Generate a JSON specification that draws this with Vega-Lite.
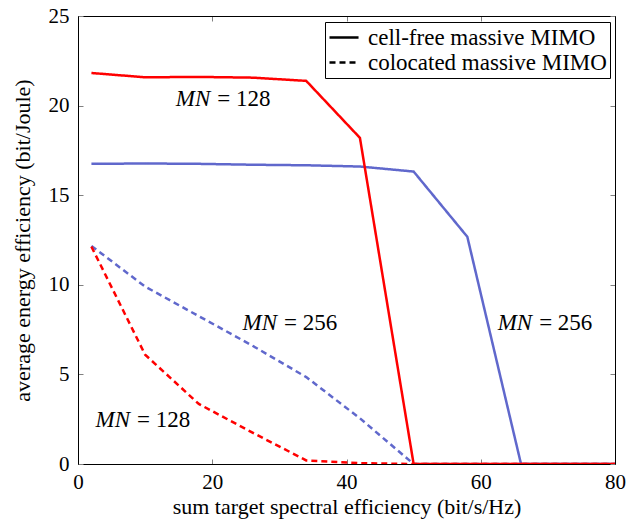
{
  "$schema": "https://vega.github.io/schema/vega-lite/v6.json",
  "width": 537,
  "height": 448,
  "autosize": "none",
  "padding": {"left": 78, "top": 16, "right": 21, "bottom": 58},
  "background": "white",
  "config": {
    "view": {"stroke": "black", "strokeWidth": 1},
    "font": "Liberation Serif, Times New Roman, serif",
    "axis": {
      "grid": false,
      "labelFont": "Liberation Serif, Times New Roman, serif",
      "labelFontSize": 21,
      "labelColor": "black",
      "labelFlush": false,
      "titleFont": "Liberation Serif, Times New Roman, serif",
      "titleFontSize": 22,
      "titleFontWeight": "normal",
      "titleColor": "black",
      "domainColor": "black",
      "domainWidth": 1,
      "tickColor": "#808080",
      "tickSize": -5,
      "tickWidth": 1
    }
  },
  "datasets": {
    "curves": [
      {"se": 2, "ee": 16.75, "MN": "256", "scheme": "cell-free massive MIMO"},
      {"se": 10, "ee": 16.77, "MN": "256", "scheme": "cell-free massive MIMO"},
      {"se": 18, "ee": 16.75, "MN": "256", "scheme": "cell-free massive MIMO"},
      {"se": 26, "ee": 16.7, "MN": "256", "scheme": "cell-free massive MIMO"},
      {"se": 34, "ee": 16.67, "MN": "256", "scheme": "cell-free massive MIMO"},
      {"se": 42, "ee": 16.6, "MN": "256", "scheme": "cell-free massive MIMO"},
      {"se": 50, "ee": 16.32, "MN": "256", "scheme": "cell-free massive MIMO"},
      {"se": 58, "ee": 12.68, "MN": "256", "scheme": "cell-free massive MIMO"},
      {"se": 66, "ee": 0, "MN": "256", "scheme": "cell-free massive MIMO"},
      {"se": 74, "ee": 0, "MN": "256", "scheme": "cell-free massive MIMO"},
      {"se": 80, "ee": 0, "MN": "256", "scheme": "cell-free massive MIMO"},
      {"se": 2, "ee": 12.17, "MN": "256", "scheme": "colocated massive MIMO"},
      {"se": 10, "ee": 9.9, "MN": "256", "scheme": "colocated massive MIMO"},
      {"se": 18, "ee": 8.25, "MN": "256", "scheme": "colocated massive MIMO"},
      {"se": 26, "ee": 6.6, "MN": "256", "scheme": "colocated massive MIMO"},
      {"se": 34, "ee": 4.85, "MN": "256", "scheme": "colocated massive MIMO"},
      {"se": 42, "ee": 2.55, "MN": "256", "scheme": "colocated massive MIMO"},
      {"se": 50, "ee": 0, "MN": "256", "scheme": "colocated massive MIMO"},
      {"se": 58, "ee": 0, "MN": "256", "scheme": "colocated massive MIMO"},
      {"se": 66, "ee": 0, "MN": "256", "scheme": "colocated massive MIMO"},
      {"se": 74, "ee": 0, "MN": "256", "scheme": "colocated massive MIMO"},
      {"se": 80, "ee": 0, "MN": "256", "scheme": "colocated massive MIMO"},
      {"se": 2, "ee": 21.82, "MN": "128", "scheme": "cell-free massive MIMO"},
      {"se": 10, "ee": 21.58, "MN": "128", "scheme": "cell-free massive MIMO"},
      {"se": 18, "ee": 21.6, "MN": "128", "scheme": "cell-free massive MIMO"},
      {"se": 26, "ee": 21.56, "MN": "128", "scheme": "cell-free massive MIMO"},
      {"se": 34, "ee": 21.38, "MN": "128", "scheme": "cell-free massive MIMO"},
      {"se": 42, "ee": 18.2, "MN": "128", "scheme": "cell-free massive MIMO"},
      {"se": 50, "ee": 0, "MN": "128", "scheme": "cell-free massive MIMO"},
      {"se": 58, "ee": 0, "MN": "128", "scheme": "cell-free massive MIMO"},
      {"se": 66, "ee": 0, "MN": "128", "scheme": "cell-free massive MIMO"},
      {"se": 74, "ee": 0, "MN": "128", "scheme": "cell-free massive MIMO"},
      {"se": 80, "ee": 0, "MN": "128", "scheme": "cell-free massive MIMO"},
      {"se": 2, "ee": 12.13, "MN": "128", "scheme": "colocated massive MIMO"},
      {"se": 10, "ee": 6.1, "MN": "128", "scheme": "colocated massive MIMO"},
      {"se": 18, "ee": 3.35, "MN": "128", "scheme": "colocated massive MIMO"},
      {"se": 26, "ee": 1.75, "MN": "128", "scheme": "colocated massive MIMO"},
      {"se": 34, "ee": 0.2, "MN": "128", "scheme": "colocated massive MIMO"},
      {"se": 42, "ee": 0.05, "MN": "128", "scheme": "colocated massive MIMO"},
      {"se": 50, "ee": 0, "MN": "128", "scheme": "colocated massive MIMO"},
      {"se": 58, "ee": 0, "MN": "128", "scheme": "colocated massive MIMO"},
      {"se": 66, "ee": 0, "MN": "128", "scheme": "colocated massive MIMO"},
      {"se": 74, "ee": 0, "MN": "128", "scheme": "colocated massive MIMO"},
      {"se": 80, "ee": 0, "MN": "128", "scheme": "colocated massive MIMO"}
    ],
    "notes": [
      {"se": 20.3, "ee": 20.37, "sym": "MN", "val": "= 128"},
      {"se": 30.25, "ee": 7.89, "sym": "MN", "val": "= 256"},
      {"se": 68.25, "ee": 7.89, "sym": "MN", "val": "= 256"},
      {"se": 8.35, "ee": 2.46, "sym": "MN", "val": "= 128"}
    ]
  },
  "resolve": {
    "scale": {"x": "independent", "y": "independent"},
    "axis": {"x": "independent", "y": "independent"}
  },
  "layer": [
    {
      "data": {"name": "curves"},
      "mark": {"type": "line", "strokeWidth": 2.5, "clip": true},
      "encoding": {
        "x": {
          "field": "se", "type": "quantitative",
          "scale": {"domain": [0, 80], "nice": false, "zero": false},
          "axis": {"orient": "bottom", "values": [0, 20, 40, 60, 80], "title": "sum target spectral efficiency (bit/s/Hz)", "labelPadding": 12, "titlePadding": 4}
        },
        "y": {
          "field": "ee", "type": "quantitative",
          "scale": {"domain": [0, 25], "nice": false},
          "axis": {"orient": "left", "values": [0, 5, 10, 15, 20, 25], "title": "average energy efficiency (bit/Joule)", "labelPadding": 14, "titlePadding": 14}
        },
        "color": {
          "field": "MN", "type": "nominal",
          "scale": {"domain": ["128", "256"], "range": ["#ff0000", "#6068cc"]},
          "legend": null
        },
        "strokeDash": {
          "field": "scheme", "type": "nominal",
          "scale": {"domain": ["cell-free massive MIMO", "colocated massive MIMO"], "range": [[1, 0], [6, 4]]},
          "legend": {
            "title": null,
            "orient": "none",
            "legendX": 247,
            "legendY": 6,
            "strokeColor": "black",
            "fillColor": "white",
            "padding": 3,
            "cornerRadius": 0,
            "labelFont": "Liberation Serif, Times New Roman, serif",
            "labelFontSize": 23,
            "labelColor": "black",
            "labelLimit": 400,
            "labelOffset": 15,
            "rowPadding": 0,
            "symbolType": "M-1,0L1.64,0",
            "symbolSize": 484,
            "symbolStrokeWidth": 2.5,
            "symbolStrokeColor": "black",
            "symbolFillColor": "transparent"
          }
        }
      }
    },
    {
      "data": {"name": "curves"},
      "mark": {"type": "line", "opacity": 0},
      "encoding": {
        "x": {"field": "se", "type": "quantitative", "scale": {"domain": [0, 80], "nice": false, "zero": false}, "axis": {"orient": "top", "values": [0, 20, 40, 60, 80], "labels": false, "title": null}},
        "y": {"field": "ee", "type": "quantitative", "scale": {"domain": [0, 25], "nice": false}, "axis": {"orient": "right", "values": [0, 5, 10, 15, 20, 25], "labels": false, "title": null}}
      }
    },
    {
      "data": {"name": "notes"},
      "mark": {"type": "text", "font": "Liberation Serif, Times New Roman, serif", "fontSize": 23, "fontStyle": "italic", "align": "right", "baseline": "middle", "dx": -4},
      "encoding": {
        "x": {"field": "se", "type": "quantitative", "scale": {"domain": [0, 80], "nice": false, "zero": false}, "axis": null},
        "y": {"field": "ee", "type": "quantitative", "scale": {"domain": [0, 25], "nice": false}, "axis": null},
        "text": {"field": "sym"}
      }
    },
    {
      "data": {"name": "notes"},
      "mark": {"type": "text", "font": "Liberation Serif, Times New Roman, serif", "fontSize": 23, "align": "left", "baseline": "middle", "dx": 3},
      "encoding": {
        "x": {"field": "se", "type": "quantitative", "scale": {"domain": [0, 80], "nice": false, "zero": false}, "axis": null},
        "y": {"field": "ee", "type": "quantitative", "scale": {"domain": [0, 25], "nice": false}, "axis": null},
        "text": {"field": "val"}
      }
    }
  ]
}
